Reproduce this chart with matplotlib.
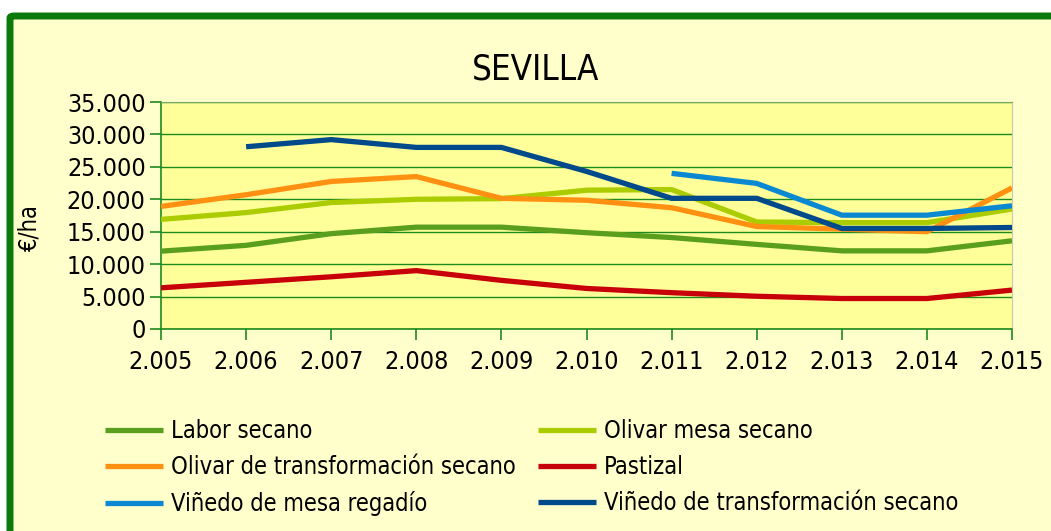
import matplotlib
matplotlib.use("Agg")
import matplotlib.pyplot as plt
from matplotlib.patches import FancyBboxPatch
from matplotlib.ticker import FuncFormatter, MultipleLocator
import numpy as np

years = [2005, 2006, 2007, 2008, 2009, 2010, 2011, 2012, 2013, 2014, 2015]
labor_secano = [12000, 12900, 14700, 15700, 15700, 14850, 14100, 13050, 12050, 12050, 13600]
olivar_mesa_secano = [16900, 17950, 19500, 20000, 20100, 21400, 21500, 16500, 16400, 16400, 18500]
olivar_transformacion_secano = [18900, 20700, 22750, 23500, 20150, 19850, 18700, 15800, 15400, 15000, 21750]
pastizal = [6350, 7200, 8050, 9000, 7500, 6250, 5600, 5050, 4700, 4700, 6000]
vinedo_mesa_regadio = [None, None, None, None, None, None, 24000, 22450, 17550, 17550, 19000]
vinedo_transformacion_secano = [None, 28100, 29200, 28000, 28000, 24300, 20150, 20150, 15500, 15500, 15650]

series = [
    ("Labor secano", labor_secano, "#5A9E1E"),
    ("Olivar mesa secano", olivar_mesa_secano, "#AACC00"),
    ("Olivar de transformación secano", olivar_transformacion_secano, "#FF9012"),
    ("Pastizal", pastizal, "#C8000A"),
    ("Viñedo de mesa regadío", vinedo_mesa_regadio, "#0A88D2"),
    ("Viñedo de transformación secano", vinedo_transformacion_secano, "#00498A"),
]

plt.rcParams["font.family"] = ["DejaVu Sans"]
plt.rcParams["font.stretch"] = "condensed"

W, H = 1051, 531
fig = plt.figure(figsize=(W / 100, H / 100), dpi=100)
fig.patch.set_facecolor("white")

# outer frame
frame = FancyBboxPatch((10 / W, -0.1), 1.2, (H - 16) / H + 0.1,
                       boxstyle="round,pad=0,rounding_size=0.004",
                       transform=fig.transFigure, facecolor="#FFFFCC",
                       edgecolor="#0A7A0A", linewidth=5, zorder=-5)
fig.patches.append(frame)

ax = fig.add_axes([161 / W, 1 - 329 / H, (1012 - 161) / W, (329 - 102) / H])
ax.set_zorder(2)
ax.set_facecolor("#FFFF99")

handles = []
for name, vals, col in series:
    y = np.array([np.nan if v is None else v for v in vals], dtype=float)
    h, = ax.plot(years, y, color=col, linewidth=3.8, label=name, solid_capstyle="butt",
                 solid_joinstyle="miter", zorder=3)
    handles.append(h)

ax.set_xlim(2005, 2015)
ax.set_ylim(0, 35000)
ax.set_xticks(years)
ax.set_xticklabels(["2.%03d" % (y - 2000) for y in years])
ax.yaxis.set_major_locator(MultipleLocator(5000))
ax.yaxis.set_major_formatter(FuncFormatter(lambda v, p: "0" if v == 0 else "{:,.0f}".format(v).replace(",", ".")))
ax.grid(axis="y", color="#1E8A1E", linewidth=1.0, zorder=1)
ax.set_axisbelow(True)

for s in ["left", "bottom"]:
    ax.spines[s].set_color("#1E8A1E")
    ax.spines[s].set_linewidth(1.2)
ax.spines["top"].set_color("#7AA86A")
ax.spines["right"].set_color("#C8C8B0")
ax.tick_params(axis="both", colors="#1E8A1E", labelcolor="black", length=8, width=1.2,
               labelsize=18)
ax.tick_params(axis="x", pad=7)
ax.tick_params(axis="y", pad=3)

ax.set_ylabel("€/ha", fontsize=17)
ax.yaxis.set_label_coords((42 - 161) / (1012 - 161), (329 - 229) / (329 - 102))
fig.text(536 / W, 1 - 70 / H, "SEVILLA", ha="center", va="center", fontsize=25)

leg_kw = dict(frameon=False, fontsize=17, handlelength=2.45, handletextpad=0.34,
              labelspacing=0.5, loc="upper left")
l1 = fig.legend([handles[0], handles[2], handles[4]],
                [series[0][0], series[2][0], series[4][0]],
                bbox_to_anchor=(84 / W, 1 - 398 / H), **leg_kw)
l2 = fig.legend([handles[1], handles[3], handles[5]],
                [series[1][0], series[3][0], series[5][0]],
                bbox_to_anchor=(517 / W, 1 - 398 / H), **leg_kw)

fig.savefig("out.png", dpi=100)
